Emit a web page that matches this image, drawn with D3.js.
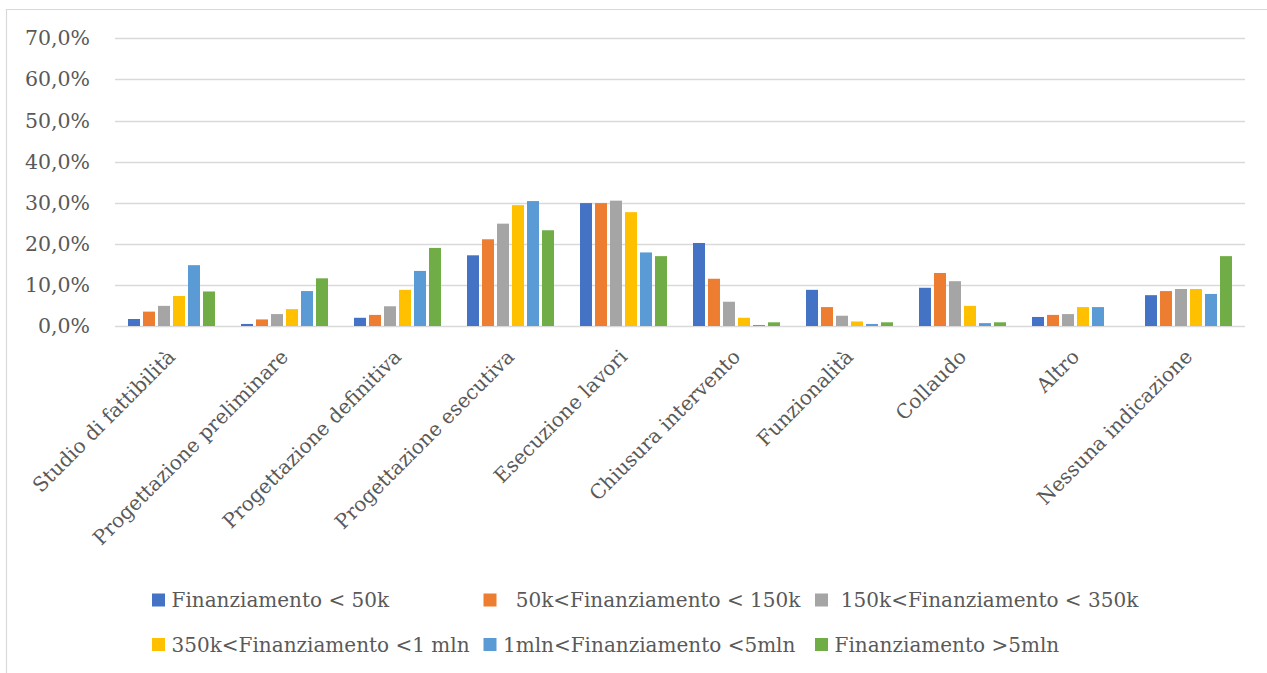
<!DOCTYPE html>
<html>
<head>
<meta charset="utf-8">
<script src="https://cdn.jsdelivr.net/npm/d3@7"></script>
<style>
  html, body { margin: 0; padding: 0; background: #fff; }
  svg { display: block; }
  text { font-family: "Palatino Linotype", "Book Antiqua", Palatino, "DejaVu Serif", serif; fill: #595959; }
</style>
</head>
<body>
<svg id="chart" width="1267" height="673"></svg>
<script>
// ---- data ----
const categories = [
  "Studio di fattibilità",
  "Progettazione preliminare",
  "Progettazione definitiva",
  "Progettazione esecutiva",
  "Esecuzione lavori",
  "Chiusura intervento",
  "Funzionalità",
  "Collaudo",
  "Altro",
  "Nessuna indicazione"
];
const seriesNames = [
  "Finanziamento < 50k",
  "  50k<Finanziamento < 150k",
  " 150k<Finanziamento < 350k",
  "350k<Finanziamento <1 mln",
  "1mln<Finanziamento <5mln",
  "Finanziamento >5mln"
];
const seriesColors = ["#4472C4", "#ED7D31", "#A5A5A5", "#FFC000", "#5B9BD5", "#70AD47"];
const valuesLt50k      = [1.7, 0.5, 2.0, 17.2, 29.9, 20.2, 8.8, 9.3, 2.2, 7.5];
const values50to150k   = [3.5, 1.6, 2.7, 21.1, 29.9, 11.5, 4.6, 12.9, 2.7, 8.5];
const values150to350k  = [4.9, 2.9, 4.8, 24.9, 30.5, 5.9, 2.5, 10.9, 2.9, 9.0];
const values350kto1mln = [7.3, 4.1, 8.8, 29.4, 27.7, 2.0, 1.1, 4.9, 4.6, 9.0];
const values1to5mln    = [14.8, 8.5, 13.4, 30.4, 17.9, 0.25, 0.5, 0.7, 4.6, 7.8];
const valuesGt5mln     = [8.4, 11.6, 19.0, 23.3, 17.0, 0.9, 0.9, 0.9, 0, 17.0];
const yTicks = [0, 10, 20, 30, 40, 50, 60, 70];

const seriesValues = [valuesLt50k, values50to150k, values150to350k, values350kto1mln, values1to5mln, valuesGt5mln];

// ---- layout ----
const svg = d3.select("#chart");
const plot = { left: 115, right: 1245, top: 38.3, bottom: 326 };
const gridColor = "#d9d9d9";

// outer frame (only top & left visible)
svg.append("path")
  .attr("d", "M6.5,680 L6.5,9.5 L1275,9.5")
  .attr("fill", "none").attr("stroke", gridColor).attr("stroke-width", 1.2);

const x0 = d3.scaleBand().domain(categories).range([plot.left, plot.right]).padding(0);
const groupInner = 90;
const x1 = d3.scaleBand().domain(seriesNames)
  .range([(x0.bandwidth() - groupInner) / 2, (x0.bandwidth() + groupInner) / 2])
  .paddingInner(0.2).paddingOuter(0.1);
const y = d3.scaleLinear().domain([0, 70]).range([plot.bottom, plot.top]);

const it = d3.formatLocale({ decimal: ",", thousands: ".", grouping: [3], currency: ["€", ""] });
const fmt = v => it.format(".1f")(v) + "%";

// grid lines
svg.append("g").selectAll("line").data(yTicks).join("line")
  .attr("x1", plot.left).attr("x2", plot.right)
  .attr("y1", d => Math.round(y(d)) + 0.5).attr("y2", d => Math.round(y(d)) + 0.5)
  .attr("stroke", gridColor).attr("stroke-width", 1.5);

// y axis labels
const yAxis = d3.axisLeft(y).tickValues(yTicks).tickFormat(fmt).tickSize(0).tickPadding(0);
const gy = svg.append("g").attr("transform", "translate(90,0)").call(yAxis);
gy.select(".domain").remove();
gy.selectAll("text")
  .style("font-family", null)
  .attr("font-size", 20.5).attr("fill", "#595959");

// bars
const groups = svg.append("g").selectAll("g").data(categories).join("g")
  .attr("transform", d => `translate(${x0(d)},0)`);
groups.selectAll("rect")
  .data((c, ci) => seriesNames.map((s, si) => ({ s, si, v: seriesValues[si][ci] })))
  .join("rect")
  .attr("x", d => x1(d.s))
  .attr("width", x1.bandwidth())
  .attr("y", d => y(d.v))
  .attr("height", d => y(0) - y(d.v))
  .attr("fill", d => seriesColors[d.si]);

// x axis category labels (rotated)
const xAxis = d3.axisBottom(x0).tickSize(0).tickPadding(0);
const gx = svg.append("g").attr("transform", `translate(0,${plot.bottom})`).call(xAxis);
gx.select(".domain").remove();
gx.selectAll(".tick text")
  .style("font-family", null)
  .attr("font-size", 20)
  .attr("fill", "#595959")
  .attr("text-anchor", "end")
  .attr("dy", null)
  .attr("y", 0)
  .attr("transform", "translate(5,32) rotate(-45)");

// legend
const legend = svg.append("g");
const legItems = legend.selectAll("g").data(seriesNames).join("g")
  .attr("transform", (d, i) => `translate(${152 + (i % 3) * 331.5},${600 + Math.floor(i / 3) * 44.5})`);
legItems.append("rect")
  .attr("x", 0).attr("y", -6.5).attr("width", 13).attr("height", 13)
  .attr("fill", (d, i) => seriesColors[i]);
legItems.append("text")
  .attr("x", 19.5).attr("y", 0).attr("dy", "0.35em")
  .attr("font-size", 20)
  .style("white-space", "pre")
  .attr("xml:space", "preserve")
  .text(d => d);
</script>
</body>
</html>
